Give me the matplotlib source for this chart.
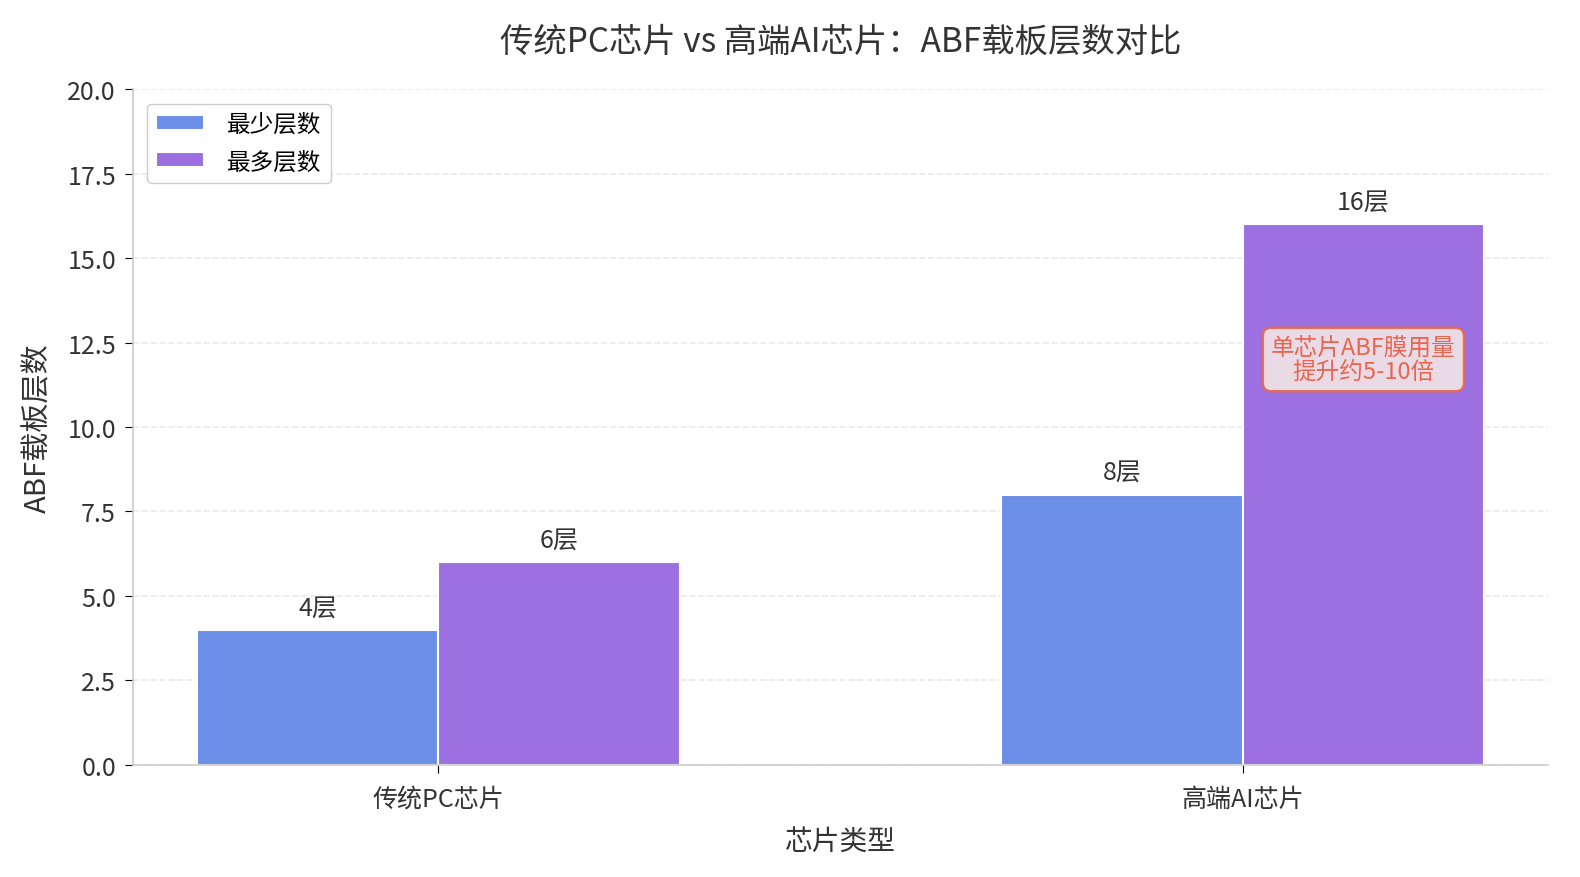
import numpy as np
import matplotlib
matplotlib.use("Agg")
import matplotlib.pyplot as plt

plt.rcParams['font.family'] = ['Noto Sans CJK SC', 'DejaVu Sans']

# data
categories = ['传统PC芯片', '高端AI芯片']
min_layers = [4, 8]
max_layers = [6, 16]
series_names = ['最少层数', '最多层数']

fig, ax = plt.subplots(figsize=(15.8, 8.78), dpi=100)

x = np.arange(len(categories))
w = 0.3
b1 = ax.bar(x - w / 2, min_layers, w, color='#6B8EE6', edgecolor='white', linewidth=1.5, label=series_names[0])
b2 = ax.bar(x + w / 2, max_layers, w, color='#9D70E1', edgecolor='white', linewidth=1.5, label=series_names[1])

for bars in (b1, b2):
    for r in bars:
        h = r.get_height()
        ax.text(r.get_x() + r.get_width() / 2, h + 0.25, f"{int(h)}层",
                ha='center', va='bottom', fontsize=18, color='#333333')

# callout on the tall bar
ax.text(x[1] + w / 2, 12.0, '单芯片ABF膜用量\n提升约5-10倍', ha='center', va='center',
        fontsize=17, color='#E8664F', linespacing=1.05,
        bbox=dict(boxstyle='round,pad=0.35', facecolor='#F3E6E6', edgecolor='#E8664F',
                  linewidth=1.8, alpha=0.9))

ax.set_ylim(0, 20)
ax.set_yticks(np.arange(0, 20.1, 2.5))
ax.set_xticks(x)
ax.set_xticklabels(categories, fontsize=18, color='#333333')
ax.tick_params(axis='y', labelsize=18, labelcolor='#333333', length=6, pad=6)
ax.tick_params(axis='x', length=6, pad=9)
ax.set_xlabel('芯片类型', fontsize=20, color='#333333', labelpad=10)
ax.set_ylabel('ABF载板层数', fontsize=21, color='#333333', labelpad=10)
ax.set_title('传统PC芯片 vs 高端AI芯片：ABF载板层数对比', fontsize=24, color='#333333', pad=28)

ax.grid(axis='y', linestyle='--', alpha=0.6, color='#DDDDDD', linewidth=1.2)
ax.set_axisbelow(True)
for s in ('top', 'right'):
    ax.spines[s].set_visible(False)
for s in ('left', 'bottom'):
    ax.spines[s].set_color('#CCCCCC')
    ax.spines[s].set_linewidth(1.2)

ax.legend(loc='upper left', fontsize=17, frameon=True, edgecolor='#CCCCCC', framealpha=1,
          handlelength=2.0, handleheight=0.6, handletextpad=1.0, labelspacing=0.6,
          borderaxespad=0.6)

plt.subplots_adjust(left=0.084, right=0.98, top=0.897, bottom=0.128)
plt.savefig('out.png', dpi=100)
